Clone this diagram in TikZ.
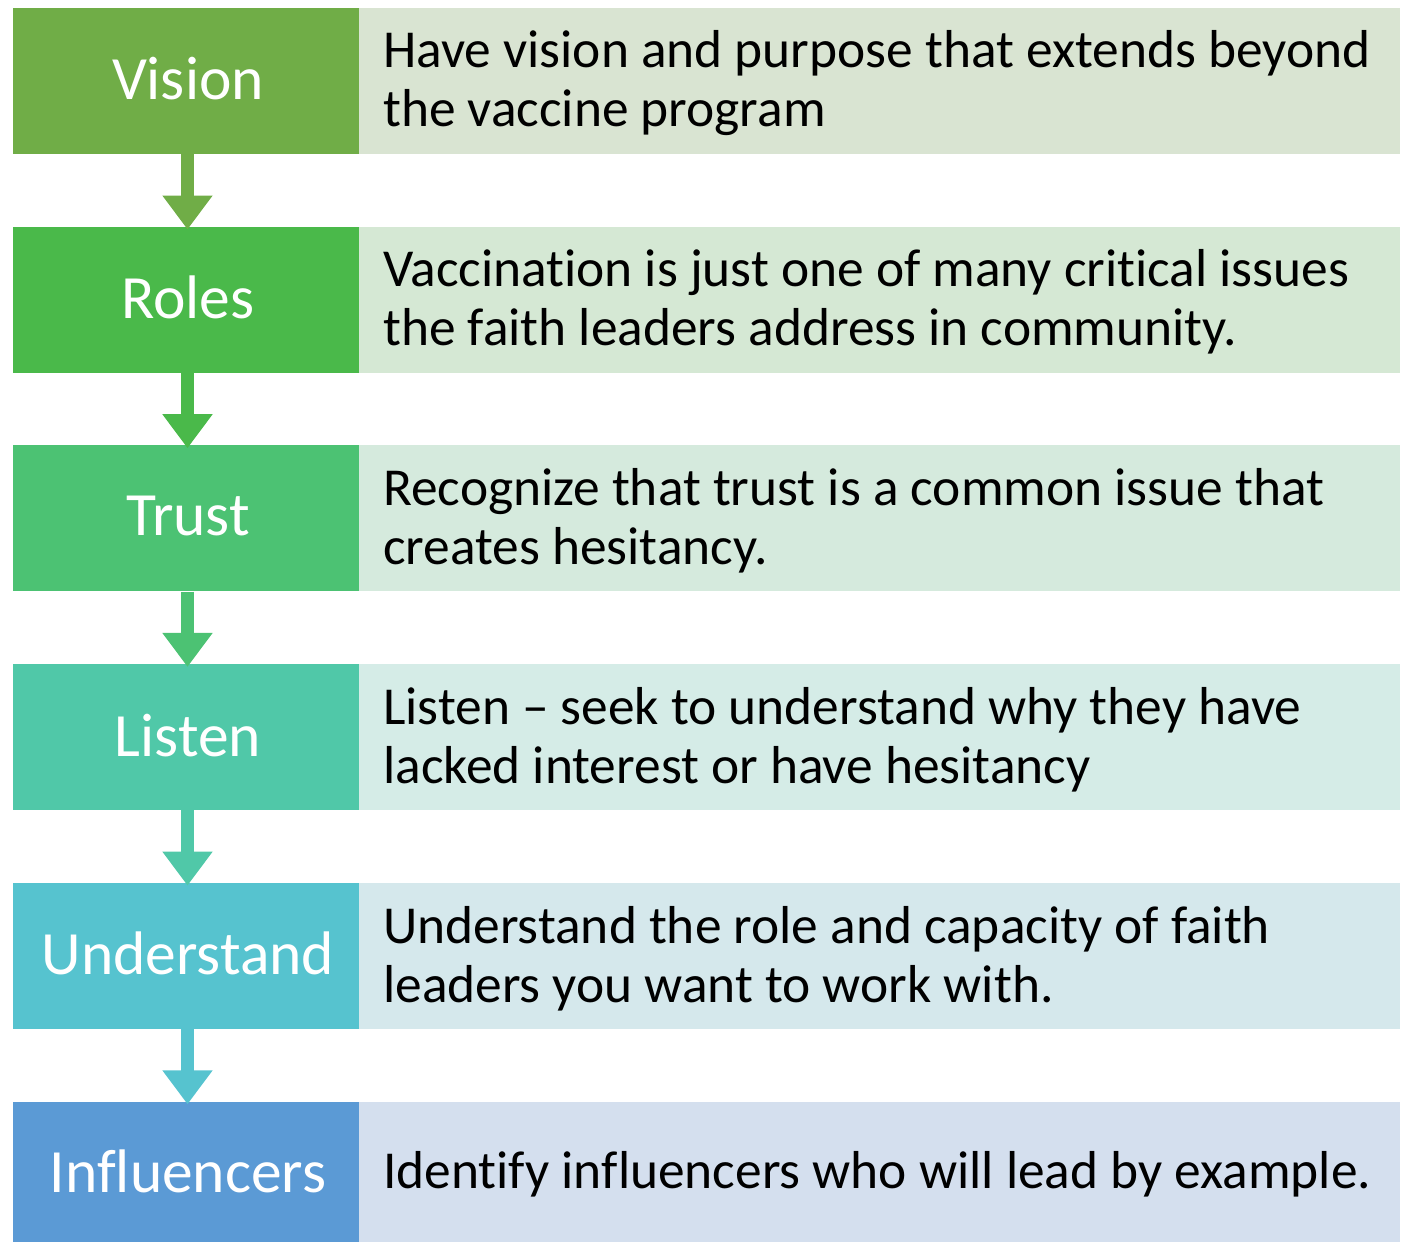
\documentclass[tikz,border=0pt]{standalone}
\usepackage{fontspec}
\setmainfont[Ligatures={NoCommon}]{Carlito}
\usetikzlibrary{arrows.meta}
\definecolor{cA}{HTML}{70AD47}
\definecolor{cB}{HTML}{4AB94A}
\definecolor{cC}{HTML}{4CC273}
\definecolor{cD}{HTML}{50C8A8}
\definecolor{cE}{HTML}{56C3CF}
\definecolor{cF}{HTML}{5B9AD5}
\definecolor{lA}{HTML}{D9E4D2}
\definecolor{lB}{HTML}{D5E8D4}
\definecolor{lC}{HTML}{D5EADD}
\definecolor{lD}{HTML}{D5ECE7}
\definecolor{lE}{HTML}{D5E8EC}
\definecolor{lF}{HTML}{D4DFEE}
\tikzset{
  lbox/.style={rectangle, inner sep=0pt, minimum width=346pt, minimum height=146pt,
    text=white, font=\fontsize{61.5}{72}\selectfont},
  ltext/.style={inner sep=0pt, text=white, font=\fontsize{61.5}{72}\selectfont},
  rbox/.style={rectangle, inner sep=0pt, minimum width=1041pt, minimum height=146pt},
  rtext/.style={anchor=west, inner sep=0pt, align=left, text=black,
    font=\fontsize{53.4}{59}\selectfont, yshift=-2.5pt},
  flow/.style={line width=13pt, -{Triangle[width=48pt 0 0, length=34pt 0 0]}, shorten >=-3pt}
}
\begin{document}
\begin{tikzpicture}[x=1pt,y=-1pt]
\useasboundingbox (0,0) rectangle (1411,1242);
\begin{scope}
\clip (0,0) rectangle (1411,1242);
\node[lbox, fill=cA] (l1) at (186,81) {};
\node[ltext] (k1) at (188,79) {Vision};
\node[rbox, fill=lA] (r1) at (879.5,81) {};
\node[rtext] (t1) at (383,81) {Have vision and purpose that extends beyond\\the vaccine program};

\node[lbox, fill=cB] (l2) at (186,299.7) {};
\node[ltext] (k2) at (188,297.7) {Roles};
\node[rbox, fill=lB] (r2) at (879.5,299.7) {};
\node[rtext] (t2) at (383,299.7) {Vaccination is just one of many critical issues\\the faith leaders address in community.};

\node[lbox, fill=cC] (l3) at (186,518.4) {};
\node[ltext] (k3) at (188,516.4) {Trust};
\node[rbox, fill=lC] (r3) at (879.5,518.4) {};
\node[rtext] (t3) at (383,518.4) {Recognize that trust is a common issue that\\creates hesitancy.};

\node[lbox, fill=cD] (l4) at (186,737.1) {};
\node[ltext] (k4) at (188,735.1) {Listen};
\node[rbox, fill=lD] (r4) at (879.5,737.1) {};
\node[rtext] (t4) at (383,737.1) {Listen -- seek to understand why they have\\lacked interest or have hesitancy};

\node[lbox, fill=cE] (l5) at (186,955.8) {};
\node[ltext] (k5) at (188,953.8) {Understand};
\node[rbox, fill=lE] (r5) at (879.5,955.8) {};
\node[rtext] (t5) at (383,955.8) {Understand the role and capacity of faith\\leaders you want to work with.};

\node[lbox, fill=cF, minimum height=141pt] (l6) at (186,1172) {};
\node[ltext] (k6) at (188,1171) {Influencers};
\node[rbox, fill=lF, minimum height=141pt] (r6) at (879.5,1172) {};
\node[rtext] (t6) at (383,1172) {Identify influencers who will lead by example.};

\draw[flow, cA] ([xshift=1.5pt]l1.south) -- ([xshift=1.5pt]l2.north);
\draw[flow, cB] ([xshift=1.5pt]l2.south) -- ([xshift=1.5pt]l3.north);
\draw[flow, cC] ([xshift=1.5pt]l3.south) -- ([xshift=1.5pt]l4.north);
\draw[flow, cD] ([xshift=1.5pt]l4.south) -- ([xshift=1.5pt]l5.north);
\draw[flow, cE] ([xshift=1.5pt]l5.south) -- ([xshift=1.5pt]l6.north);
\end{scope}
\end{tikzpicture}
\end{document}
